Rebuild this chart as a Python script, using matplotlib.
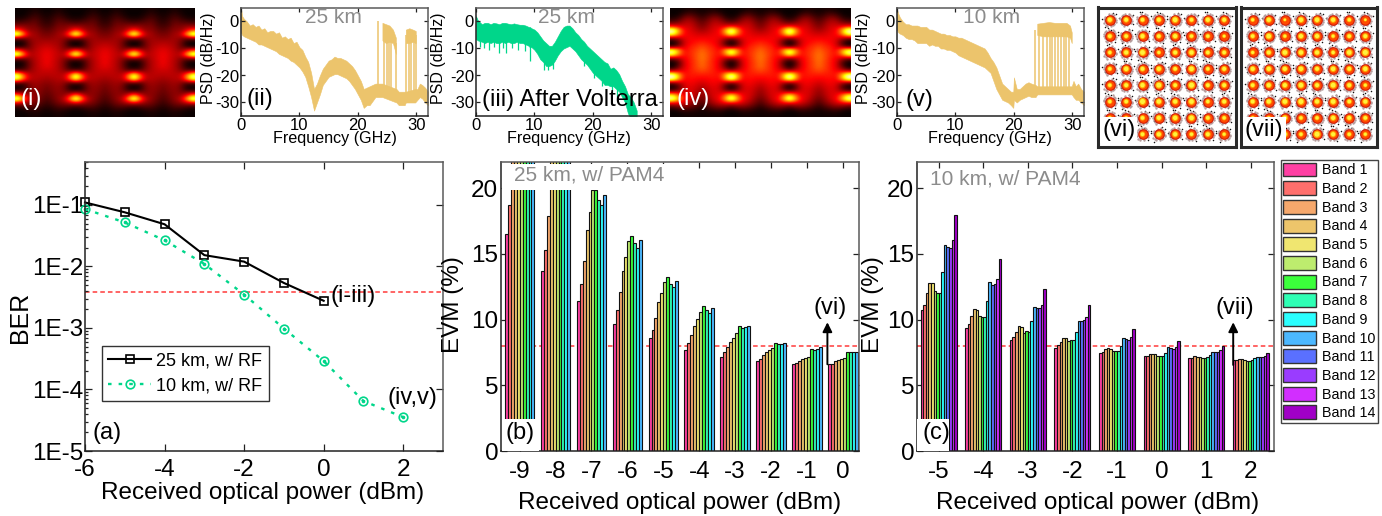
"""Transmission results figure: eye diagrams, PSDs, BER and per-band EVM."""

import matplotlib

matplotlib.use("Agg")
import matplotlib.pyplot as plt
import numpy as np
from matplotlib.patches import Rectangle
from matplotlib.ticker import FixedLocator, NullFormatter

plt.rcParams["font.family"] = ["Liberation Sans", "DejaVu Sans"]
plt.rcParams["axes.unicode_minus"] = False

W, H = 1382, 516

# BER panel
ber_power = [-6, -5, -4, -3, -2, -1, 0, 1, 2]
ber_25km = [0.11, 0.076, 0.0486, 0.0153, 0.012, 0.0054, 0.00277]
ber_10km = [0.086, 0.052, 0.0267, 0.011, 0.0035, 0.00098, 0.00029, 6.5e-5, 3.55e-5]
ber_threshold = 3.8e-3

# EVM bars, one row per received power, one value per band (24 = off the scale)
bands = [f"Band {i}" for i in range(1, 15)]
band_colors = ["#ff3fa3", "#ff6f6c", "#f6a86c", "#edc56b", "#f0e670", "#bdec6e", "#3bff3b",
               "#2effb4", "#2bffff", "#4cb8ff", "#5a70ff", "#9a3cff", "#d22eff", "#a000c6"]
evm_threshold = 8

power_25km = [-9, -8, -7, -6, -5, -4, -3, -2, -1, 0]
evm_25km = [
    [16.5, 18.7, 24, 24, 24, 24, 24, 24, 24, 24],
    [13.7, 15.3, 17.9, 24, 24, 24, 24, 24, 24, 24],
    [11.4, 12.7, 14.5, 16.8, 18.2, 19.9, 19.9, 19.1, 18.7, 19.5],
    [9.7, 10.7, 12.1, 13.7, 14.75, 16.0, 16.35, 15.8, 15.45, 16.1],
    [8.6, 9.2, 10.1, 11.35, 12.0, 12.85, 13.25, 12.7, 12.45, 12.95],
    [7.7, 8.2, 8.8, 9.55, 10.05, 10.55, 11.05, 10.7, 10.5, 10.85],
    [7.15, 7.5, 7.9, 8.27, 8.63, 9.0, 9.5, 9.37, 9.45, 9.55],
    [6.83, 7.0, 7.28, 7.5, 7.67, 7.84, 8.25, 8.15, 8.12, 8.25],
    [6.62, 6.7, 6.85, 7.0, 7.05, 7.13, 7.8, 7.72, 7.77, 7.9],
    [6.6, 6.65, 6.88, 6.95, 7.03, 7.08, 7.5, 7.5, 7.5, 7.54],
]

power_10km = [-5, -4, -3, -2, -1, 0, 1, 2]
evm_10km = [
    [10.7, 11.1, 12.0, 12.8, 12.77, 12.2, 12.05, 12.0, 13.6, 15.7, 15.5, 15.43, 16.04, 18.0],
    [9.34, 9.67, 10.3, 10.8, 10.75, 10.3, 10.23, 10.18, 11.4, 12.84, 12.66, 12.69, 13.07, 14.64],
    [8.43, 8.7, 9.06, 9.5, 9.42, 9.0, 9.1, 9.04, 9.92, 11.0, 10.86, 10.9, 11.1, 12.3],
    [7.87, 8.05, 8.3, 8.6, 8.58, 8.35, 8.45, 8.48, 9.09, 9.9, 9.9, 9.95, 10.2, 11.14],
    [7.49, 7.56, 7.77, 7.82, 7.8, 7.6, 7.62, 7.64, 7.97, 8.58, 8.5, 8.48, 8.65, 9.31],
    [7.2, 7.23, 7.36, 7.38, 7.36, 7.2, 7.23, 7.26, 7.46, 7.89, 7.82, 7.77, 7.92, 8.35],
    [7.08, 7.1, 7.2, 7.16, 7.13, 7.06, 7.08, 7.13, 7.31, 7.56, 7.54, 7.56, 7.69, 7.99],
    [6.9, 6.93, 7.03, 6.98, 6.95, 6.85, 6.88, 6.93, 7.06, 7.13, 7.13, 7.18, 7.23, 7.44],
]

# PSD traces, read as upper and lower edge of the noisy band
psd2_f = [0, 0.2, 0.5, 1, 1.5, 2, 2.5, 3, 3.5, 4, 4.5, 5, 5.5, 6, 6.5, 7, 7.5, 8, 8.5, 9, 9.5, 10,
          10.5, 11, 11.5, 12, 12.5, 13, 13.5, 14, 14.5, 15, 15.5, 16, 16.5, 17, 17.5, 18, 18.5,
          19, 19.5, 20, 20.5, 21, 21.5, 22, 22.5, 23, 23.6, 24.2, 26.6, 27, 27.5, 28, 28.2,
          29.8, 30.2, 30.6, 31, 31.5, 32]
psd2_up = [5, 2, 1, 0, -1.5, -1, -2, -1.5, -3, -2.5, -4, -3.5, -3.5, -4.5, -4, -6, -5.5, -6.5, -6, -8, -7.5, -9.5,
           -10.5, -13, -15, -19, -25, -23, -20, -17.5, -16, -14.5, -14, -13, -13.5, -13.5, -14, -14.5, -15.5,
           -16.5, -18, -20, -22, -25, -24.5, -24, -23.5, -23, -23, -23, -25, -26, -26, -26, -26,
           -25, -25, -23, -23.5, -24.5, -26]
psd2_lo = [-4, -5, -5.5, -6, -6.5, -7, -7.5, -8.5, -8.5, -9, -9.5, -10, -10.5, -11, -12, -12.5, -13, -13.5, -14.5, -15, -16, -17,
           -18.5, -20.5, -24, -28, -33, -30, -27, -23.5, -22, -20.5, -20, -19.5, -19.5, -20, -20.5, -21, -22,
           -23.5, -25, -27, -29, -32, -31, -31, -29.5, -28, -28, -28, -30, -31, -31, -31, -30,
           -30, -29, -28, -28.5, -30, -31]
psd2_block_f = [[24.2, 24.8, 25.4, 26.0, 26.5], [28.2, 28.8, 29.4, 29.9]]
psd2_block_up = [[-0.5, -1, -1.5, -3, -6], [-3, -2.5, -3, -3.5]]
psd2_block_lo = [[-7, -8, -7.5, -8, -12], [-8, -8, -7.5, -8]]
psd2_teeth = [23.5, 24.4, 24.9, 25.3, 25.7, 26.5, 28.2, 28.7, 29.1, 29.6, 30.0]
psd2_teeth_top = [0, -4, -5, -5, -5, -8, -5, -5, -5, -5, -5]

psd3_f = [0, 0.3, 1, 1.5, 2, 2.5, 3, 3.5, 4, 4.5, 5, 5.5, 6, 6.5, 7, 7.5, 8, 8.5, 9, 9.2, 9.5, 10, 10.5, 11,
          11.5, 12, 12.5, 13, 13.5, 14, 14.5, 15, 15.5, 16, 16.5, 17, 17.5, 18, 18.5, 19, 19.5, 20, 20.5, 21,
          21.5, 22, 22.5, 23, 23.5, 24, 24.5, 25, 25.5, 26, 26.5, 27, 27.5]
psd3_up = [2, 0.5, -1, -0.5, -0.5, -1, -0.5, -0.7, -1, -0.5, -0.5, -0.8, -1, -0.7, -1, -1.2, -1.2, -1.5, -2, -2, -2.5, -3, -4, -5.5,
           -7, -8, -9, -9, -7.5, -5.5, -3.5, -2, -1.5, -1.5, -2.5, -4, -5, -6.5, -7.5, -9, -10, -11, -12, -13,
           -14, -15, -15.5, -17.5, -17, -18, -19.5, -22, -24, -27, -28, -30, -33]
psd3_lo = [-6.5, -7, -7.5, -8, -7.5, -8, -7.5, -8, -8, -7.5, -8, -7.5, -8, -8, -7.5, -8, -8, -8.5, -9, -9.5, -9.5, -10.5, -12, -14,
           -15, -16.5, -16.5, -16, -14.5, -12.5, -11, -10, -9.5, -9, -10, -11, -12.5, -14, -15, -16, -17.5, -19, -20, -21,
           -22, -23.5, -23.5, -24, -24, -25, -26, -28, -30, -34, -36, -36, -36]
psd3_spike_f = [0.7, 1.3, 2.2, 3.1, 3.9, 4.6, 5.2, 6.1, 7.2, 8.3, 9.2, 11.7, 12.4, 13.1, 18.4, 20.2, 21.6, 23.3, 24.2]
psd3_spike_lo = [-9.5, -10, -10.5, -9.5, -11.5, -10, -11.5, -10, -10.5, -11, -14.5, -18, -18, -17.5, -16.5, -21, -24, -27, -28]
psd3_spike_top = [-6, -6, -6, -6, -6, -6, -6, -6, -6, -6, -8, -15, -15, -15, -14, -19, -22, -23, -24]

psd5_f = [0, 0.2, 0.5, 1, 1.5, 2, 2.5, 3, 3.5, 4, 4.5, 5, 5.5, 6, 6.5, 7, 7.5, 8, 8.5, 9, 9.5, 10, 10.5, 11,
          11.5, 12, 12.5, 13, 13.5, 14, 14.5, 15, 15.5, 16, 16.5, 17, 17.5, 18, 18.5, 19, 19.5, 19.9, 20,
          20.5, 21, 21.5, 22, 22.5, 23, 23.7, 24, 29.9, 30.2, 30.6, 31, 31.5, 32]
psd5_up = [4.5, 3, 1.5, 0, -1, -1, -1.5, -1.5, -1.5, -2, -2, -2, -3, -3, -3.5, -4, -4.5, -4.5, -5, -5, -5.5, -5.5, -6, -6,
           -6.5, -7, -7.5, -8, -8.5, -9, -9.5, -10, -11.5, -13.5, -15, -17, -20, -23, -24, -25, -26, -26, -20.7,
           -25, -25, -24, -23, -22.5, -23, -23.5, -24, -24, -22, -24, -23, -25, -26]
psd5_lo = [-3, -4, -4.5, -5, -6, -6.5, -6.5, -7, -8, -8, -8, -8, -9, -8.5, -9, -9, -10, -10, -10.5, -10.5, -11, -11.5, -12.5, -13,
           -13.5, -14, -14.5, -15, -15.5, -16, -16.5, -17, -18, -19, -22, -25, -27, -29, -29.5, -30, -31, -32, -29,
           -30, -29, -28.5, -28, -27.5, -28, -28, -27, -27, -28, -29, -29, -30, -31]
psd5_block_f = [24.0, 25, 26, 27, 28, 29, 29.6, 29.9]
psd5_block_up = [-0.8, -0.5, -0.2, -0.5, -0.5, -0.5, -1.5, -4]
psd5_block_lo = [-5, -5.5, -5.5, -5.5, -5.5, -5.5, -6, -8]
psd5_teeth = [23.6, 24.3, 24.9, 25.6, 26.2, 26.6, 27.1, 27.6, 28.0, 28.5, 28.9, 29.5]

# eye diagrams: brightness down one column, for a few columns across the crossing point
eye1_cross = [0, 0, .02, .08, .2, .45, 1, .15, 0, 0, .45, 1, .15, 0, 0, .12, .85, .9, .12, 0, .05, .5, 1, .3, .05, 0, 0]
eye1_near = [0, 0, .03, .1, .2, .3, .6, .15, .03, .05, .3, .6, .15, .03, .04, .12, .5, .55, .12, .03, .08, .3, .6, .25, .08, .01, 0]
eye1_mid1 = [.01, .03, .07, .12, .17, .2, .27, .2, .16, .16, .2, .27, .2, .16, .16, .2, .27, .27, .2, .16, .17, .2, .27, .2, .1, .03, .01]
eye1_mid2 = [.03, .06, .1, .14, .17, .2, .23, .23, .23, .24, .26, .27, .26, .25, .25, .25, .26, .26, .23, .21, .2, .2, .2, .16, .1, .04, .02]
eye1_mid3 = [.01, .03, .06, .08, .11, .15, .18, .21, .24, .27, .3, .31, .31, .3, .3, .28, .27, .24, .21, .19, .18, .16, .14, .11, .06, .03, .01]
eye1_mid4 = [0, .01, .03, .05, .08, .12, .16, .2, .25, .29, .33, .35, .35, .35, .33, .29, .26, .23, .19, .16, .14, .12, .1, .07, .04, .01, 0]

eye4_cross = [0, 0, .03, .12, .35, 1, .85, .15, 0, .05, .9, .85, .15, 0, 0, .2, .95, 1, .15, 0, .1, .7, 1, .35, .1, 0, 0]
eye4_near = [0, .01, .07, .17, .32, .65, .55, .25, .1, .18, .65, .55, .25, .1, .14, .3, .65, .65, .25, .1, .2, .5, .65, .35, .15, .02, 0]
eye4_mid1 = [.01, .07, .17, .25, .3, .36, .36, .33, .3, .32, .36, .38, .35, .32, .32, .35, .38, .36, .33, .3, .3, .33, .36, .3, .17, .05, .01]
eye4_mid2 = [.03, .1, .2, .26, .3, .32, .34, .36, .36, .4, .42, .42, .4, .4, .4, .4, .4, .38, .36, .33, .32, .32, .3, .24, .14, .04, .01]
eye4_mid3 = [.02, .06, .13, .19, .23, .27, .31, .35, .39, .43, .46, .48, .48, .46, .46, .44, .4, .37, .33, .3, .27, .25, .21, .17, .09, .03, .01]
eye4_mid4 = [.01, .03, .08, .13, .17, .23, .3, .36, .41, .47, .52, .54, .54, .53, .52, .47, .41, .36, .3, .25, .21, .19, .15, .1, .05, .01, .01]

# order of the columns above across the image
eye_order = [0, 1, 2, 3, 4, 5, 4, 3, 2, 1,
             0, 1, 2, 3, 4, 5, 4, 3, 2, 1,
             0, 1, 2, 3, 4, 5, 4, 3, 2, 1, 0]

# 64QAM constellations: grid levels, brightness of each spot's core
qam_levels = [-7, -5, -3, -1, 1, 3, 5, 7]
qam6_core = [
    [.9, .8, .7, .8, 1.1, .7, .9, .8],
    [.7, .7, .9, .7, .9, .6, .6, .4],
    [.6, .9, 1.2, .5, .8, 1.0, .7, .7],
    [.6, 1.0, .8, .9, .7, 1.1, .6, .8],
    [.6, .8, 1.0, 1.2, .7, 1.3, .7, .8],
    [.6, .7, 1.3, 1.0, .9, 1.1, .6, .8],
    [.5, .5, .7, .9, 1.0, 1.1, .7, .6],
    [.5, .5, .7, .9, .9, .6, .8, .5],
]
qam7_core = [
    [.5, .9, .3, 1.0, 1.0, .9, .6, .3],
    [.7, 1.1, .5, .9, .9, .5, .7, .8],
    [.5, .8, 1.1, 1.0, .9, .6, 1.1, 1.3],
    [.9, .9, .9, 1.0, .8, 1.0, .8, 1.0],
    [.7, .9, .9, 1.1, .8, 1.2, .8, .5],
    [.8, .9, 1.1, 1.2, .9, 1.1, .7, .9],
    [.5, .5, .9, .6, .6, .9, .8, .7],
    [.5, .5, .9, .6, 1.3, .9, .6, .5],
]
# stray samples around each spot, in grid levels
speckle_dx = [-.75, .8, -.5, .65, .95, -.9, .3, -.2, .55, -.65, .05, 1.0, -.35, .85, -1.0, .2]
speckle_dy = [.7, -.6, -.85, .75, .15, -.2, .95, -.95, -.9, .35, 1.0, -.45, .85, .55, .4, -.8]

GOLD = "#ecc46c"
TEAL = "#00d68a"
GRAY_TEXT = "#8c8c8c"
RED_LINE = "#ff3b3b"
FRAME = "#5a5a5a"

fig = plt.figure(figsize=(W / 100, H / 100), dpi=100, facecolor="white")


def px_axes(left, top, right, bottom):
    return fig.add_axes([left / W, 1 - bottom / H, (right - left) / W, (bottom - top) / H])


def label(x, y, s, **kwargs):
    kwargs.setdefault("fontsize", 17)
    kwargs.setdefault("ha", "center")
    kwargs.setdefault("va", "center")
    return fig.text(x / W, 1 - y / H, s, **kwargs)


def style_frame(ax, ticksize, pad):
    for side in ("top", "right"):
        ax.spines[side].set_color(FRAME)
    for side in ("left", "bottom"):
        ax.spines[side].set_color("#222222")
    for spine in ax.spines.values():
        spine.set_linewidth(1.1)
    ax.tick_params(which="both", direction="in", top=True, right=True, labelsize=ticksize, pad=pad, width=0.9, color="#222222")


def eye_panel(box, profiles, text, text_x):
    ax = px_axes(*box)
    grid = np.array([profiles[i] for i in eye_order]).T
    ax.imshow(grid, cmap="hot", vmin=0, vmax=1, aspect="auto", interpolation="bicubic")
    ax.axis("off")
    label(text_x, 99, text, color="white")


def psd_panel(left, color, f, up, lo, km, km_x, ylabel_x, xlabel_x):
    ax = px_axes(left, 8, left + 187, 116)
    ax.fill_between(f, lo, up, color=color, lw=0.4)
    ax.set_xlim(0, 32)
    ax.set_ylim(-35, 5)
    ax.set_xticks([0, 10, 20, 30])
    ax.set_yticks([0, -10, -20, -30])
    style_frame(ax, 12, 1.5)
    ax.tick_params(length=3)
    label(km_x, 17, km, color=GRAY_TEXT, fontsize=15)
    label(ylabel_x, 58, "PSD (dB/Hz)", rotation=90, fontsize=11.5)
    label(xlabel_x, 139, "Frequency (GHz)", fontsize=11.6)
    return ax


def qam_panel(box, core, text):
    ax = px_axes(*box)
    ax.set_xlim(-8.45, 8.45)
    ax.set_ylim(-8.5, 8.5)
    xx, yy = np.meshgrid(qam_levels, qam_levels[::-1])
    c = np.array(core)
    dx, dy = np.array(speckle_dx), np.array(speckle_dy)
    for i, row in enumerate(xx):
        for j, x0 in enumerate(row):
            sign = 1 if (i + j) % 2 else -1
            start = (i * 3 + j * 5) % 4
            ax.scatter(x0 + sign * dx[start::4], yy[i, j] - sign * dy[start::4], s=1.2, c="#111111", lw=0)
            ax.scatter(x0 - sign * dy * 0.75, yy[i, j] + sign * dx * 0.75, s=3, c="#b59c9c", lw=0)
    ax.scatter(xx, yy, s=60, c="#d01a08", lw=0)
    ax.scatter(xx, yy, s=38, c="#ff4a00", lw=0)
    ax.scatter(xx, yy, s=22 * c, c="#ffa800", lw=0)
    ax.scatter(xx, yy, s=10 * c, c="#fff23c", lw=0)
    ax.set_xticks([])
    ax.set_yticks([])
    for spine in ax.spines.values():
        spine.set_linewidth(2.2)
        spine.set_color("#2a2a2a")
    label(box[0] + 4, 130, text, ha="left", bbox=dict(fc="white", ec="none", pad=1.5))


def evm_panel(box, power, values, bar_w, xlim, ylabel_x, xlabel_x):
    ax = px_axes(*box)
    for p, row in zip(power, values):
        offs = (np.arange(len(row)) - (len(row) - 1) / 2) * bar_w
        ax.bar(p + offs, row, width=bar_w, color=band_colors[:len(row)], edgecolor="#111111", linewidth=0.8, zorder=2)
    ax.axhline(evm_threshold, color=RED_LINE, ls=(0, (3, 2)), lw=1.1, zorder=1)
    ax.set_xlim(*xlim)
    ax.set_ylim(0, 22)
    ax.set_xticks(power)
    ax.set_yticks([0, 5, 10, 15, 20])
    style_frame(ax, 17.5, 7)
    ax.tick_params(axis="y", pad=2, length=4)
    ax.tick_params(axis="x", length=4)
    label(ylabel_x, 305, "EVM (%)", rotation=90, fontsize=17.5)
    label(xlabel_x, 503, "Received optical power (dBm)", fontsize=17.5)
    return ax


# top row
eye_panel((15, 8, 195, 116.7), [eye1_cross, eye1_near, eye1_mid1, eye1_mid2, eye1_mid3, eye1_mid4], "(i)", 31)
eye_panel((670, 8, 850.7, 116.7), [eye4_cross, eye4_near, eye4_mid1, eye4_mid2, eye4_mid3, eye4_mid4], "(iv)", 693)

ax2 = psd_panel(241, GOLD, psd2_f, psd2_up, psd2_lo, "25 km", 333, 208, 335)
for bf, bu, bl in zip(psd2_block_f, psd2_block_up, psd2_block_lo):
    ax2.fill_between(bf, bl, bu, color=GOLD, lw=0.4)
ax2.vlines(psd2_teeth, -27, psd2_teeth_top, color=GOLD, lw=1.1)
label(260, 99, "(ii)")

ax3 = psd_panel(476, TEAL, psd3_f, psd3_up, psd3_lo, "25 km", 566, 438, 569)
ax3.vlines(psd3_spike_f, psd3_spike_top, psd3_spike_lo, color=TEAL, lw=0.9)
label(570, 100, "(iii) After Volterra")

ax5 = psd_panel(897, GOLD, psd5_f, psd5_up, psd5_lo, "10 km", 992, 864, 990)
ax5.fill_between(psd5_block_f, psd5_block_lo, psd5_block_up, color=GOLD, lw=0.4)
ax5.vlines(psd5_teeth, -26, -3, color=GOLD, lw=1.1)
label(919, 100, "(v)")

qam_panel((1098, 7.5, 1236, 146.5), qam6_core, "(vi)")
qam_panel((1241, 7.5, 1377, 146.5), qam7_core, "(vii)")

# BER panel
ax_a = px_axes(85, 162, 443, 451)
ax_a.axhline(ber_threshold, color=RED_LINE, ls=(0, (3, 2)), lw=1.1, zorder=1)
ax_a.semilogy(ber_power[:len(ber_25km)], ber_25km, color="black", lw=1.5, marker="s", ms=5.2,
              mfc="none", mew=1.2, label="25 km, w/ RF", clip_on=False)
ax_a.semilogy(ber_power, ber_10km, color=TEAL, lw=1.7, ls=(0, (1.5, 3)), marker="o", ms=6.2,
              mfc="none", mew=1.2, label="10 km, w/ RF", clip_on=False)
ax_a.semilogy(ber_power, ber_10km, color=TEAL, ls="none", marker="o", ms=1.6, clip_on=False)
ax_a.set_xlim(-6, 3)
ax_a.set_ylim(1e-5, 0.5)
ax_a.set_xticks([-6, -4, -2, 0, 2])
ax_a.yaxis.set_major_locator(FixedLocator([1e-5, 1e-4, 1e-3, 1e-2, 1e-1]))
ax_a.set_yticklabels(["1E-5", "1E-4", "1E-3", "1E-2", "1E-1"])
ax_a.yaxis.set_minor_formatter(NullFormatter())
style_frame(ax_a, 17.5, 6)
ax_a.tick_params(axis="y", pad=1.5)
ax_a.tick_params(which="major", length=5)
ax_a.tick_params(which="minor", length=2.5, right=False)
ax_a.legend(loc="upper left", bbox_to_anchor=(102 / W, 1 - 346 / H), bbox_transform=fig.transFigure, borderaxespad=0,
            fontsize=13, frameon=True, fancybox=False, framealpha=1, edgecolor="#333333", handlelength=2.35,
            handletextpad=0.3, borderpad=0.35, labelspacing=0.45)
label(20, 317, "BER", rotation=90, fontsize=18)
label(263, 493, "Received optical power (dBm)", fontsize=17.5)
label(353, 296, "(i-iii)")
label(412, 398, "(iv,v)")
label(107, 433, "(a)")

# EVM panels
ax_b = evm_panel((501, 162, 859, 451), power_25km, evm_25km, 0.082, (-9.52, 0.45), 453, 680)
ax_b.add_patch(Rectangle((-9.5, 19.9), 5.3, 1.95, fc="white", ec="none", zorder=3))
ax_b.add_patch(Rectangle((-9.5, 0), 1.05, 2.4, fc="white", ec="none", zorder=3))
label(589, 175, "25 km, w/ PAM4", color=GRAY_TEXT, fontsize=15)
label(520, 433, "(b)")
ax_b.annotate("", xy=(-0.43, 9.8), xytext=(-0.43, 6.6),
              arrowprops=dict(arrowstyle="-|>", color="black", lw=1.4, shrinkA=0, shrinkB=0, mutation_scale=14), zorder=4)
label(830, 308, "(vi)")

ax_c = evm_panel((917, 162, 1274, 451), power_10km, evm_10km, 0.0577, (-5.487, 2.52), 873, 1098)
ax_c.add_patch(Rectangle((-5.48, 0), 0.72, 2.45, fc="white", ec="none", zorder=3))
label(1005, 179, "10 km, w/ PAM4", color=GRAY_TEXT, fontsize=15)
label(936, 433, "(c)")
ax_c.annotate("", xy=(1.605, 9.8), xytext=(1.605, 6.55),
              arrowprops=dict(arrowstyle="-|>", color="black", lw=1.4, shrinkA=0, shrinkB=0, mutation_scale=14), zorder=4)
label(1235, 308, "(vii)")

# band legend
handles = [Rectangle((0, 0), 1, 1, fc=c, ec="#333333", lw=1.0) for c in band_colors]
fig.legend(handles, bands, loc="upper left", bbox_to_anchor=(1280.7 / W, 1 - 160 / H), borderaxespad=0,
           fontsize=10.3, frameon=True, fancybox=False, framealpha=1, edgecolor="#444444", handlelength=2.3,
           handleheight=1.12, handletextpad=0.4, borderpad=0.18, labelspacing=0.27)

fig.savefig("out.png", dpi=100, facecolor="white")
plt.close(fig)
